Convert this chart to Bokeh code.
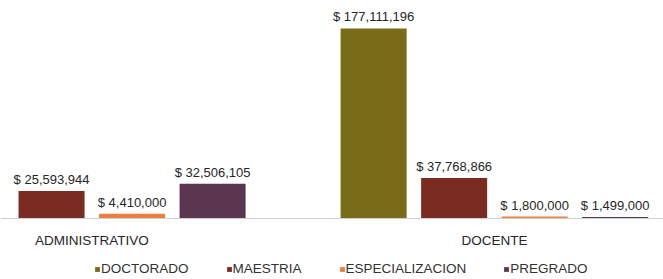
from bokeh.plotting import figure
from bokeh.models import Range1d, Legend, LegendItem, ColumnDataSource, Span
from bokeh.core.properties import value
from bokeh.embed import file_html
from bokeh.resources import INLINE

groups = ["ADMINISTRATIVO", "DOCENTE"]
series = ["DOCTORADO", "MAESTRIA", "ESPECIALIZACION", "PREGRADO"]
administrativo = [0, 25593944, 4410000, 32506105]
docente = [177111196, 37768866, 1800000, 1499000]
colors = ["#7a6b18", "#7b2c22", "#ec7f3f", "#5c3650"]

values = [administrativo, docente]
n = len(series)
slot = n + 1  # one empty slot between groups

FONT = "Liberation Sans"

p = figure(width=663, height=279, output_backend="svg", toolbar_location=None,
           x_range=Range1d(0.866, 9.10), y_range=Range1d(-56.86e6, 203.2e6),
           min_border_left=0, min_border_right=0, min_border_top=0, min_border_bottom=0)
p.outline_line_color = None
p.background_fill_color = "white"
p.border_fill_color = "white"
p.xgrid.visible = False
p.ygrid.visible = False
p.xaxis.visible = False
p.yaxis.visible = False

# baseline (category axis line)
p.add_layout(Span(location=0, dimension="width", line_color="#d0d0d0", line_width=1))

items = []
lx, ly, lt = [], [], []
for s, name in enumerate(series):
    xs = [g * slot + s + 0.5 for g in range(len(groups))]
    tops = [values[g][s] for g in range(len(groups))]
    src = ColumnDataSource(dict(x=xs, top=tops))
    r = p.vbar(x="x", top="top", bottom=0, width=0.82, source=src,
               fill_color=colors[s], line_color=None)
    items.append(LegendItem(label=name, renderers=[r]))
    for xv, tv in zip(xs, tops):
        if tv > 0:
            lx.append(xv)
            ly.append(tv)
            lt.append("$ {:,}".format(tv))

# value labels
p.text(x=lx, y=ly, text=lt, text_align="center", text_baseline="bottom", y_offset=-4,
       text_font=value(FONT), text_font_size="13px", text_color="#262626")

# category labels under the baseline
gx = [g * slot + n / 2 for g in range(len(groups))]
p.text(x=gx, y=[0] * len(groups), text=groups, text_align="center", text_baseline="middle",
       y_offset=22, text_font=value(FONT), text_font_size="13.5px", text_color="#262626")

legend = Legend(items=items, orientation="horizontal", location=(94, 3),
                glyph_width=6, glyph_height=6, label_standoff=1, spacing=37,
                padding=0, margin=0, border_line_color=None, background_fill_alpha=0,
                label_text_font=FONT, label_text_font_size="13.5px", label_height=14,
                label_text_color="#333333")
p.add_layout(legend)

open("out.html", "w").write(file_html(p, INLINE))
